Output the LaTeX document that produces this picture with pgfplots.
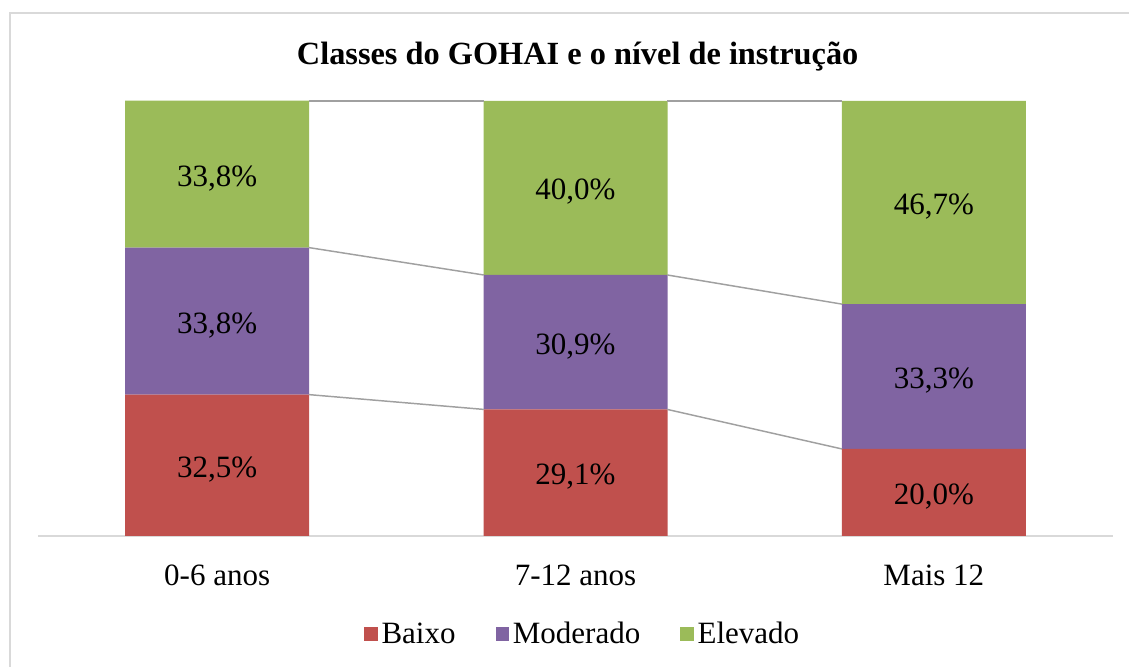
\documentclass[border=0pt]{standalone}
\usepackage{fontspec}
\setmainfont{Liberation Serif}
\usepackage{pgfplots}
\pgfplotsset{compat=1.18}
\definecolor{cBaixo}{HTML}{C0504D}
\definecolor{cMod}{HTML}{8064A2}
\definecolor{cElev}{HTML}{9BBB59}
\definecolor{cBorder}{HTML}{D9D9D9}
\definecolor{cSeries}{HTML}{A0A0A0}
\begin{document}
\begin{tikzpicture}
\useasboundingbox (0,0) rectangle (846.75pt,500.25pt);
\fill[white] (0,0) rectangle (846.75pt,500.25pt);
\draw[cBorder, line width=1.5pt] (7.5pt,0) -- (7.5pt,490.5pt) -- (846.75pt,490.5pt);
\pgfplotsset{base/.style={
  at={(28.5pt,98.25pt)}, anchor=south west,
  scale only axis, width=806.25pt, height=326.25pt,
  xmin=-0.5, xmax=2.5, ymin=0, ymax=100,
}}
\begin{axis}[base,
  ybar stacked, bar width=138pt,
  axis y line=none,
  axis x line*=bottom,
  x axis line style={cBorder, line width=1.5pt, -},
  xtick={0,1,2}, xticklabels={0-6 anos, 7-12 anos, Mais 12},
  major tick length=0pt,
  xticklabel style={anchor=base, yshift=-37.5pt, font=\fontsize{23.25}{26}\selectfont},
  title={Classes do GOHAI e o nível de instrução},
  title style={at={(0.502,1.065)}, anchor=base, yshift=0pt, font=\bfseries\fontsize{24.25}{28}\selectfont},
  legend style={at={(0.507,-0.225)}, anchor=center, draw=none, legend columns=3,
    font=\fontsize{23.25}{26}\selectfont,
    /tikz/every odd column/.append style={column sep=1pt},
    /tikz/every even column/.append style={column sep=28pt}},
  legend image code/.code={\fill[#1] (0pt,-5pt) rectangle (10pt,5pt);},
]
\addplot[fill=cBaixo, draw=none] coordinates {(0,32.5) (1,29.1) (2,20.0)};
\addplot[fill=cMod, draw=none] coordinates {(0,33.8) (1,30.9) (2,33.3)};
\addplot[fill=cElev, draw=none] coordinates {(0,33.8) (1,40.0) (2,46.7)};
\legend{Baixo, Moderado, Elevado}
\end{axis}
\begin{axis}[base, hide axis, clip=false]
% series lines
\addplot[cSeries, line width=1.1pt] coordinates {(0.256,32.5) (0.744,29.1)};
\addplot[cSeries, line width=1.1pt] coordinates {(1.256,29.1) (1.744,20.0)};
\addplot[cSeries, line width=1.1pt] coordinates {(0.256,66.3) (0.744,60.0)};
\addplot[cSeries, line width=1.1pt] coordinates {(1.256,60.0) (1.744,53.3)};
\addplot[cSeries, line width=1.1pt] coordinates {(0.256,100) (0.744,100)};
\addplot[cSeries, line width=1.1pt] coordinates {(1.256,100) (1.744,100)};
% data labels
\addplot[only marks, mark=none, point meta=explicit symbolic,
  nodes near coords,
  every node near coord/.append style={anchor=center, yshift=-3pt, font=\fontsize{23.25}{26}\selectfont, text=black}]
  coordinates {
  (0,16.25) [32,5\%]
  (0,49.4) [33,8\%]
  (0,83.15) [33,8\%]
  (1,14.55) [29,1\%]
  (1,44.55) [30,9\%]
  (1,80.0) [40,0\%]
  (2,10.0) [20,0\%]
  (2,36.65) [33,3\%]
  (2,76.65) [46,7\%]
  };
\end{axis}
\end{tikzpicture}
\end{document}
